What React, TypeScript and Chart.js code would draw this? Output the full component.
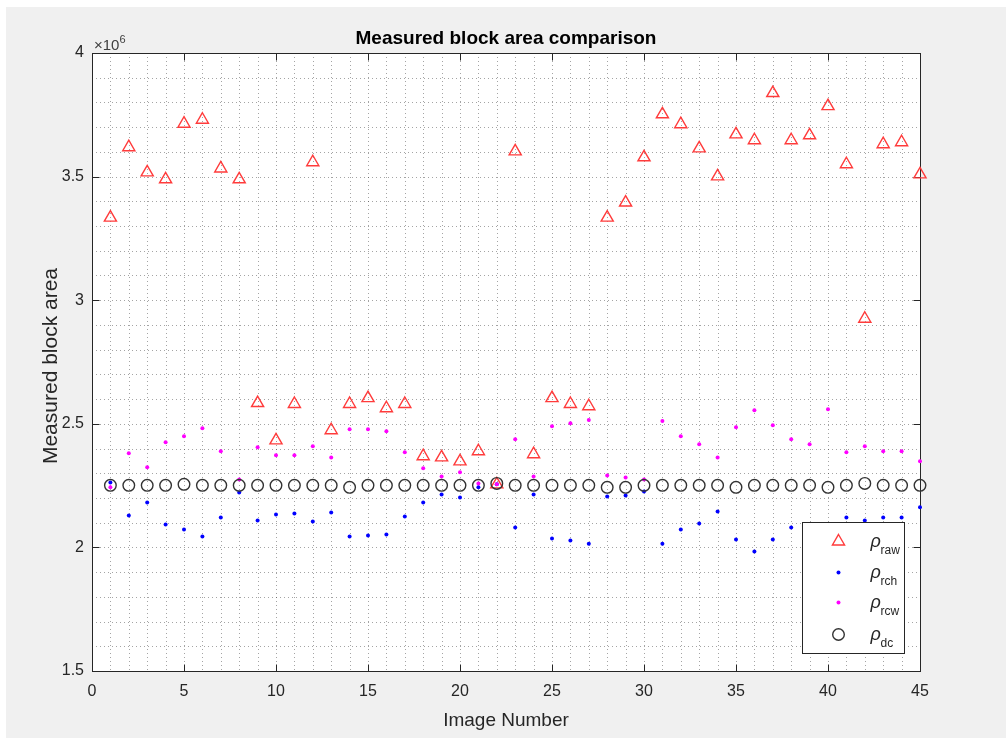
import React, { useEffect, useRef } from "react";
import { Chart, registerables } from "chart.js";

Chart.register(...registerables);

// Image numbers (x) and measured areas in units of 10^6
const imageNumber = [1, 2, 3, 4, 5, 6, 7, 8, 9, 10, 11, 12, 13, 14, 15, 16, 17, 18, 19, 20, 21, 22, 23, 24, 25, 26, 27, 28, 29, 30, 31, 32, 33, 34, 35, 36, 37, 38, 39, 40, 41, 42, 43, 44, 45];

const rhoRaw = [3.334, 3.619, 3.517, 3.489, 3.714, 3.73, 3.533, 3.489, 2.584, 2.433, 2.58, 3.558, 2.474, 2.58, 2.604, 2.563, 2.58, 2.369, 2.364, 2.348, 2.389, 2.255, 3.602, 2.377, 2.604, 2.58, 2.571, 3.334, 3.395, 3.578, 3.752, 3.712, 3.614, 3.501, 3.671, 3.647, 3.838, 3.647, 3.667, 3.785, 3.55, 2.925, 3.631, 3.639, 3.509];

const rhoRch = [2.263, 2.129, 2.182, 2.093, 2.072, 2.044, 2.121, 2.222, 2.109, 2.133, 2.137, 2.105, 2.141, 2.044, 2.048, 2.052, 2.125, 2.182, 2.214, 2.202, 2.243, 2.255, 2.08, 2.214, 2.036, 2.028, 2.015, 2.206, 2.21, 2.226, 2.015, 2.072, 2.097, 2.145, 2.032, 1.983, 2.032, 2.08, 2.07, 2.05, 2.121, 2.109, 2.121, 2.121, 2.162];

const rhoRcw = [2.243, 2.381, 2.324, 2.425, 2.45, 2.482, 2.389, 2.275, 2.405, 2.373, 2.373, 2.409, 2.364, 2.478, 2.478, 2.47, 2.385, 2.32, 2.287, 2.304, 2.259, 2.255, 2.438, 2.287, 2.49, 2.502, 2.515, 2.291, 2.283, 2.275, 2.511, 2.45, 2.417, 2.364, 2.486, 2.555, 2.494, 2.438, 2.417, 2.559, 2.385, 2.409, 2.389, 2.389, 2.348];

const rhoDc = [2.251, 2.251, 2.251, 2.251, 2.255, 2.251, 2.251, 2.251, 2.251, 2.251, 2.251, 2.251, 2.251, 2.243, 2.251, 2.251, 2.251, 2.251, 2.251, 2.251, 2.251, 2.259, 2.251, 2.251, 2.251, 2.251, 2.251, 2.243, 2.243, 2.251, 2.251, 2.251, 2.251, 2.251, 2.243, 2.251, 2.251, 2.251, 2.251, 2.243, 2.251, 2.259, 2.251, 2.251, 2.251];

const legendSubs = ["raw", "rch", "rcw", "dc"];

const AXIS = "#262626";
const FONT = "'Liberation Sans', Arial, sans-serif";
const TRI_R = 7;
const CIRC_R = 5.8;

const toPoints = (ys: number[]) => ys.map((y, i) => ({ x: imageNumber[i], y }));

const matlabPlugin = {
  id: "matlabLook",
  beforeDraw(chart: any) {
    const { ctx, width, height } = chart;
    ctx.save();
    ctx.fillStyle = "#f0f0f0";
    ctx.fillRect(0, 0, width, height);
    ctx.restore();
  },
  beforeDatasetsDraw(chart: any) {
    const { ctx, chartArea: a, scales } = chart;
    const xs = scales.x;
    const ys = scales.y;
    ctx.save();
    ctx.fillStyle = "#ffffff";
    ctx.fillRect(a.left, a.top, a.right - a.left, a.bottom - a.top);
    // dotted grid (major + minor)
    ctx.strokeStyle = "rgba(38,38,38,0.42)";
    ctx.lineWidth = 1;
    ctx.setLineDash([1, 3]);
    for (let i = 1; i < 45; i++) {
      const px = Math.round(xs.getPixelForValue(i)) + 0.5;
      ctx.beginPath();
      ctx.moveTo(px, a.top);
      ctx.lineTo(px, a.bottom);
      ctx.stroke();
    }
    for (let i = 16; i < 40; i++) {
      const py = Math.round(ys.getPixelForValue(i / 10)) + 0.5;
      ctx.beginPath();
      ctx.moveTo(a.left, py);
      ctx.lineTo(a.right, py);
      ctx.stroke();
    }
    ctx.setLineDash([]);
    // box
    ctx.strokeStyle = AXIS;
    ctx.lineWidth = 1;
    const L = Math.round(a.left) + 0.5;
    const R = Math.round(a.right) + 0.5;
    const T = Math.round(a.top) + 0.5;
    const B = Math.round(a.bottom) + 0.5;
    ctx.strokeRect(L, T, R - L, B - T);
    // inward major ticks
    const tl = 7;
    ctx.beginPath();
    for (let i = 5; i < 45; i += 5) {
      const px = Math.round(xs.getPixelForValue(i)) + 0.5;
      ctx.moveTo(px, B);
      ctx.lineTo(px, B - tl);
      ctx.moveTo(px, T);
      ctx.lineTo(px, T + tl);
    }
    for (let i = 4; i < 8; i++) {
      const py = Math.round(ys.getPixelForValue(i / 2)) + 0.5;
      ctx.moveTo(L, py);
      ctx.lineTo(L + tl, py);
      ctx.moveTo(R, py);
      ctx.lineTo(R - tl, py);
    }
    ctx.stroke();
    ctx.restore();
  },
  afterDatasetsDraw(chart: any) {
    const { ctx, chartArea: a } = chart;
    ctx.save();
    // legend box
    const lw = 102;
    const lh = 131;
    const lx = Math.round(a.right - 16 - lw) + 0.5;
    const ly = Math.round(a.bottom - 18 - lh) + 0.5;
    ctx.fillStyle = "#ffffff";
    ctx.fillRect(lx, ly, lw, lh);
    ctx.strokeStyle = AXIS;
    ctx.lineWidth = 1;
    ctx.strokeRect(lx, ly, lw, lh);
    const rows = [19, 50, 80, 112];
    const mx = lx + 36;
    rows.forEach((dy, k) => {
      const my = ly + dy;
      ctx.save();
      if (k === 0) {
        const r = TRI_R;
        ctx.strokeStyle = "#ff3b3b";
        ctx.lineWidth = 1.4;
        ctx.beginPath();
        ctx.moveTo(mx, my - r);
        ctx.lineTo(mx + r * Math.sin((2 * Math.PI) / 3), my - r * Math.cos((2 * Math.PI) / 3));
        ctx.lineTo(mx + r * Math.sin((4 * Math.PI) / 3), my - r * Math.cos((4 * Math.PI) / 3));
        ctx.closePath();
        ctx.stroke();
      } else if (k === 1 || k === 2) {
        ctx.fillStyle = k === 1 ? "#0000ff" : "#ff00ff";
        ctx.beginPath();
        ctx.arc(mx, my, 2, 0, Math.PI * 2);
        ctx.fill();
      } else {
        ctx.strokeStyle = "#333333";
        ctx.lineWidth = 1.4;
        ctx.beginPath();
        ctx.arc(mx, my, CIRC_R, 0, Math.PI * 2);
        ctx.stroke();
      }
      ctx.restore();
      ctx.fillStyle = AXIS;
      ctx.textAlign = "left";
      ctx.textBaseline = "alphabetic";
      ctx.font = `italic 18px ${FONT}`;
      ctx.fillText("\u03C1", lx + 68, my + 5.5);
      ctx.font = `12px ${FONT}`;
      ctx.fillText(legendSubs[k], lx + 78, my + 12);
    });
    // title
    const cx = (a.left + a.right) / 2;
    ctx.fillStyle = "#000000";
    ctx.textAlign = "center";
    ctx.font = `bold 19px ${FONT}`;
    ctx.fillText("Measured block area comparison", cx, a.top - 9);
    // x label
    ctx.fillStyle = AXIS;
    ctx.font = `19px ${FONT}`;
    ctx.fillText("Image Number", cx, a.bottom + 55);
    // y label
    ctx.save();
    ctx.translate(a.left - 41, (a.top + a.bottom) / 2 + 4);
    ctx.rotate(-Math.PI / 2);
    ctx.font = `21px ${FONT}`;
    ctx.textBaseline = "middle";
    ctx.fillText("Measured block area", 0, 0);
    ctx.restore();
    // exponent
    ctx.textAlign = "left";
    ctx.fillStyle = "#404040";
    ctx.font = `15px ${FONT}`;
    ctx.fillText("\u00D710", a.left + 2, a.top - 3);
    const w = ctx.measureText("\u00D710").width;
    ctx.font = `11px ${FONT}`;
    ctx.fillText("6", a.left + 2 + w, a.top - 10);
    ctx.restore();
  },
};

export default function App() {
  const ref = useRef<HTMLCanvasElement | null>(null);

  useEffect(() => {
    if (!ref.current) return;
    const chart = new Chart(ref.current, {
      type: "scatter",
      data: {
        datasets: [
          {
            label: "raw",
            data: toPoints(rhoRaw),
            pointStyle: "triangle",
            pointRadius: TRI_R,
            borderColor: "#ff3b3b",
            backgroundColor: "rgba(0,0,0,0)",
            borderWidth: 1.4,
            order: 4,
            clip: false,
          },
          {
            label: "rch",
            data: toPoints(rhoRch),
            pointStyle: "circle",
            pointRadius: 2,
            borderWidth: 0,
            backgroundColor: "#0000ff",
            borderColor: "#0000ff",
            order: 3,
            clip: false,
          },
          {
            label: "rcw",
            data: toPoints(rhoRcw),
            pointStyle: "circle",
            pointRadius: 2,
            borderWidth: 0,
            backgroundColor: "#ff00ff",
            borderColor: "#ff00ff",
            order: 2,
            clip: false,
          },
          {
            label: "dc",
            data: toPoints(rhoDc),
            pointStyle: "circle",
            pointRadius: CIRC_R,
            borderWidth: 1.4,
            borderColor: "#333333",
            backgroundColor: "rgba(0,0,0,0)",
            order: 1,
            clip: false,
          },
        ] as any,
      },
      options: {
        animation: false,
        responsive: false,
        events: [],
        layout: { padding: { left: 0, right: 86, top: 46, bottom: 0 } },
        plugins: {
          legend: { display: false },
          title: { display: false },
          tooltip: { enabled: false },
        },
        scales: {
          x: {
            type: "linear",
            min: 0,
            max: 45,
            grid: { display: false, drawTicks: false },
            border: { display: false },
            ticks: {
              stepSize: 5,
              padding: 11,
              color: AXIS,
              font: { family: FONT, size: 16 },
              maxRotation: 0,
            },
            afterFit: (s: any) => {
              s.height = 67;
            },
          },
          y: {
            type: "linear",
            min: 1.5,
            max: 4,
            grid: { display: false, drawTicks: false },
            border: { display: false },
            ticks: {
              stepSize: 0.5,
              padding: 8,
              color: AXIS,
              font: { family: FONT, size: 16 },
              callback: (v: any) => String(Math.round(Number(v) * 10) / 10),
            },
            afterFit: (s: any) => {
              s.width = 86;
            },
          },
        },
      } as any,
      plugins: [matlabPlugin],
    });
    return () => chart.destroy();
  }, []);

  return (
    <div style={{ position: "fixed", left: 6, top: 7, width: 1000, height: 731 }}>
      <canvas ref={ref} width={1000} height={731} style={{ display: "block" }} />
    </div>
  );
}
